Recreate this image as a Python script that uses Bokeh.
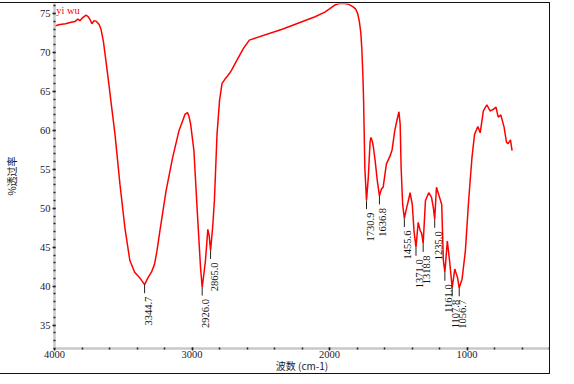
import numpy as np
from bokeh.plotting import figure
from bokeh.models import Range1d, FixedTicker, Label
from bokeh.embed import file_html
from bokeh.resources import INLINE
from bokeh.core.properties import value

# ---- data ----
wavenumber = [
    4000, 3960, 3920, 3880, 3850, 3830, 3815, 3795, 3770, 3755, 3740, 3728, 3712,
    3695, 3675, 3662, 3645, 3625, 3605, 3590, 3560, 3524, 3488, 3452, 3417, 3381,
    3344.7, 3320, 3295, 3273, 3255, 3237, 3189, 3141, 3094, 3050, 3033, 3022, 3010,
    2986, 2962, 2938, 2926.0, 2914, 2902, 2885, 2875, 2865.0, 2850, 2837, 2818, 2800,
    2782, 2760, 2746, 2728, 2710, 2674, 2627, 2583, 2344, 2105, 2034, 2000, 1962,
    1930, 1890, 1860, 1831, 1810, 1795, 1783, 1772, 1765, 1757, 1752, 1743, 1730.9,
    1718, 1705, 1699, 1690, 1682, 1668, 1652, 1636.8, 1622, 1610, 1586, 1560, 1545,
    1525, 1507, 1495, 1486, 1479, 1468, 1455.6, 1440, 1426, 1414, 1398, 1385, 1371.0,
    1355, 1340, 1330, 1318.8, 1302, 1278, 1258, 1244, 1235.0, 1222, 1203, 1184, 1172,
    1161.0, 1143, 1127, 1107.8, 1089, 1069, 1056.7, 1036, 1012, 988, 964, 945, 921,
    904, 881, 856, 832, 809, 789, 773, 754, 730, 713, 701, 684, 672,
]
transmittance = [
    73.4, 73.6, 73.7, 73.9, 74.0, 74.3, 74.1, 74.5, 74.8, 74.6, 74.2, 73.7, 74.1,
    74.0, 73.6, 73.0, 71.5, 68.8, 66.0, 63.8, 59.5, 53.1, 47.5, 43.3, 41.8, 41.1,
    40.2, 41.1, 41.8, 42.8, 44.5, 46.7, 52.2, 56.5, 60.0, 62.1, 62.3, 61.8, 60.8,
    57.4, 49.7, 42.4, 39.9, 41.5, 43.3, 47.3, 46.5, 44.6, 47.5, 51.0, 59.5, 63.8,
    66.0, 66.6, 66.9, 67.3, 67.8, 69.0, 70.5, 71.6, 73.0, 74.6, 75.2, 75.6, 76.1,
    76.3, 76.3, 76.2, 75.9, 75.6, 75.0, 74.0, 72.5, 70.5, 67.0, 63.8, 55.2, 51.0,
    53.9, 58.5, 59.1, 58.7, 58.0, 56.1, 53.5, 51.6, 52.5, 52.7, 55.7, 56.7, 57.5,
    60.0, 61.5, 62.4, 60.8, 55.2, 50.5, 48.7, 50.0, 51.0, 52.0, 50.5, 47.0, 45.0,
    48.2, 47.1, 46.8, 45.5, 51.0, 52.0, 51.4, 50.0, 48.6, 52.7, 51.6, 50.5, 43.3,
    41.8, 45.8, 43.3, 39.8, 42.2, 41.1, 39.8, 40.9, 44.5, 51.0, 56.5, 59.5, 60.5,
    59.7, 62.5, 63.3, 62.5, 62.7, 63.0, 61.7, 62.0, 60.4, 58.5, 58.3, 58.8, 57.4,
]
peak_wavenumbers = [3344.7, 2926.0, 2865.0, 1730.9, 1636.8, 1455.6, 1371.0,
                    1318.8, 1235.0, 1161.0, 1107.8, 1056.7]
peak_labels = ["3344.7", "2926.0", "2865.0", "1730.9", "1636.8", "1455.6", "1371.0",
               "1318.8", "1235.0", "1161.0", "1107.8", "1056.7"]
x_major_ticks = [4000, 3000, 2000, 1000]
x_minor_ticks = list(range(400, 4001, 200))
y_major_ticks = [35, 40, 45, 50, 55, 60, 65, 70, 75]
y_minor_ticks = list(range(32, 77))
sample_name = "yi wu"
x_title = "波数 (cm-1)"
y_title = "%透过率"

# ---- figure ----
SERIF = "Liberation Serif"
CJK = "Noto Sans CJK SC"

p = figure(width=549, height=370, output_backend="svg", toolbar_location=None,
           title=None, x_range=Range1d(4000, 400), y_range=Range1d(32.0, 76.3),
           min_border_left=44, min_border_right=2, min_border_top=0,
           min_border_bottom=27)
p.styles = {"border": "1.5px solid #111111", "box-sizing": "content-box",
            "margin-left": "-1.5px", "margin-top": "2px"}
p.outline_line_color = None
p.xgrid.visible = False
p.ygrid.visible = False
p.background_fill_color = "white"
p.border_fill_color = "white"

for ax in (p.xaxis[0], p.yaxis[0]):
    ax.axis_line_color = "#c8c8c8"
    ax.axis_line_width = 2.5
    ax.major_tick_line_color = "#222222"
    ax.major_tick_line_width = 1.5
    ax.major_tick_in = 1
    ax.major_tick_out = 2
    ax.minor_tick_line_color = "#222222"
    ax.minor_tick_line_width = 1.5
    ax.minor_tick_in = 1
    ax.minor_tick_out = 1
    ax.major_label_text_font = SERIF
    ax.major_label_text_font_size = "10.5px"
    ax.major_label_text_color = "#1a1a2e"
    ax.axis_label_text_font = CJK
    ax.axis_label_text_font_size = "10px"
    ax.axis_label_text_font_style = "normal"
    ax.axis_label_text_color = "#1a1a2e"

p.xaxis[0].ticker = FixedTicker(ticks=x_major_ticks, minor_ticks=x_minor_ticks)
p.yaxis[0].ticker = FixedTicker(ticks=y_major_ticks, minor_ticks=y_minor_ticks)
p.xaxis[0].major_label_standoff = 0
p.yaxis[0].major_label_standoff = 2

p.xaxis[0].axis_label = x_title
p.xaxis[0].axis_label_standoff = -3
p.yaxis[0].axis_label = y_title
p.yaxis[0].axis_label_standoff = 18

# spectrum
p.line(wavenumber, transmittance, line_color="#ff0000", line_width=1.5)

# peak markers
wn_arr = np.array(wavenumber, dtype=float)
t_arr = np.array(transmittance, dtype=float)
peak_t = np.interp(peak_wavenumbers, wn_arr[::-1], t_arr[::-1])
TICK_LEN = 1.1
GAP = 0.45
p.segment(x0=peak_wavenumbers, y0=peak_t, x1=peak_wavenumbers, y1=peak_t - TICK_LEN,
          line_color="#222222", line_width=1)
p.text(x=peak_wavenumbers, y=peak_t - TICK_LEN - GAP, text=peak_labels,
       angle=np.pi / 2, text_align="right", text_baseline="top",
       text_font=value(SERIF), text_font_size="10.5px", text_color="#111111")

# sample name
p.add_layout(Label(x=3988, y=76.1, text=sample_name, text_color="#ff0000",
                   text_font=SERIF, text_font_size="10.5px", text_baseline="top",
                   text_align="left"))

open("out.html", "w").write(file_html(p, INLINE))
